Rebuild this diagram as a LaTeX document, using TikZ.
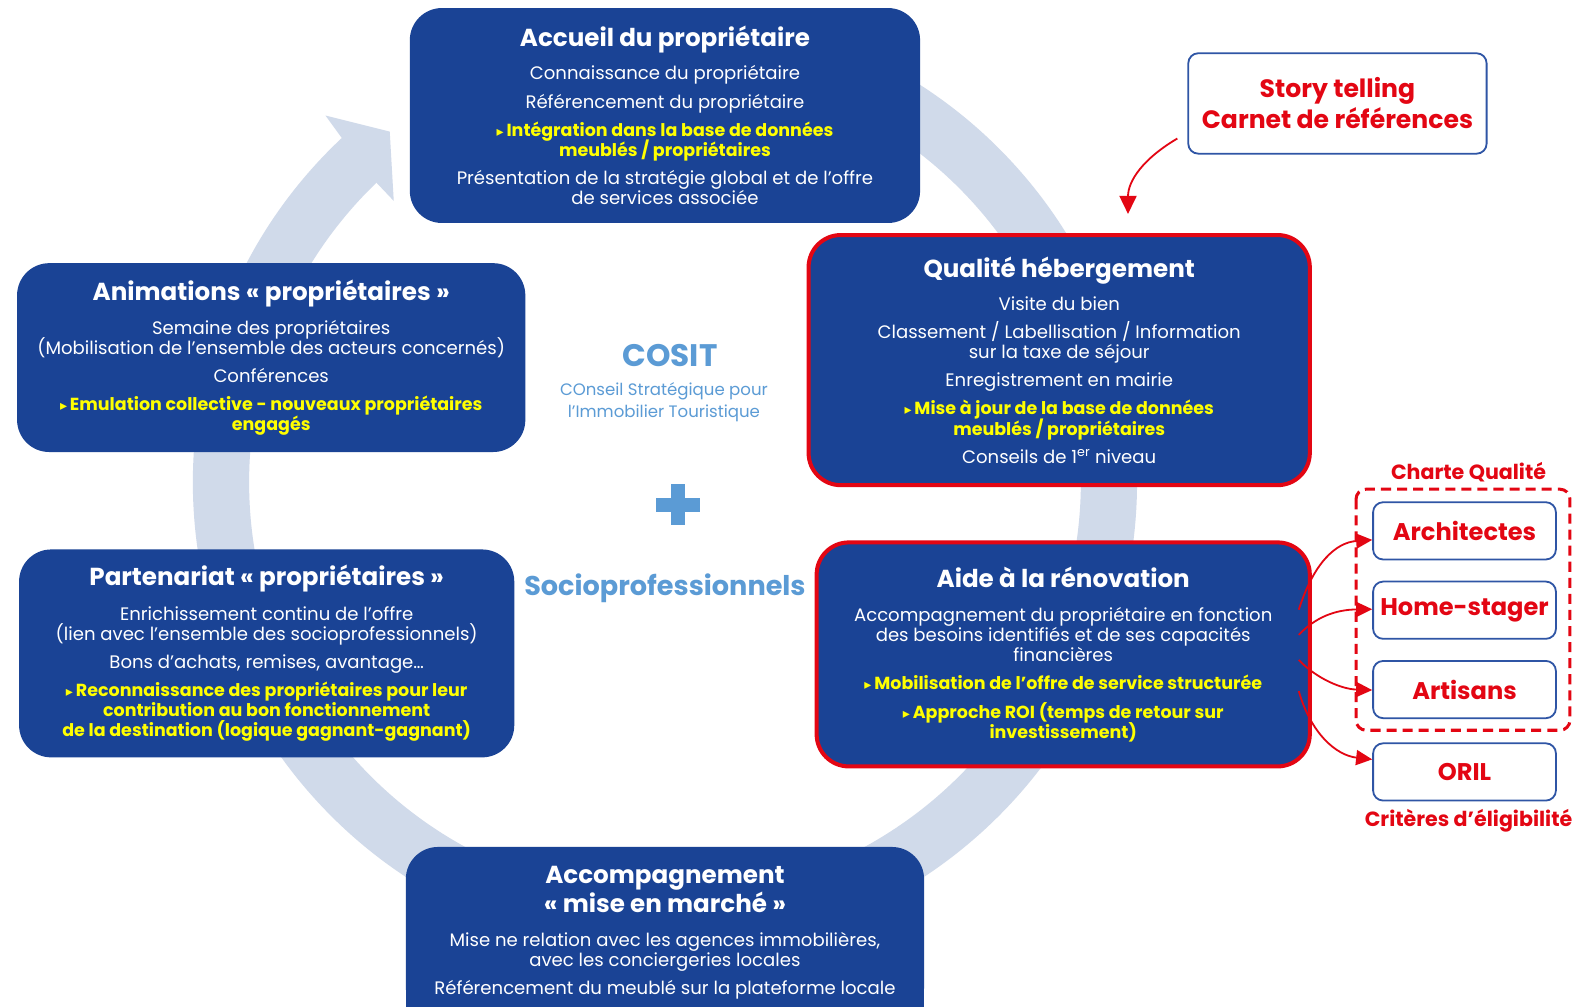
\documentclass[tikz,border=0pt]{standalone}
\usepackage{fontspec}
\setmainfont{Poppins}
\newfontfamily\dejavu{DejaVu Sans}
\usetikzlibrary{arrows.meta}
\definecolor{boxblue}{RGB}{26,67,149}
\definecolor{ringc}{RGB}{208,218,234}
\definecolor{boxred}{RGB}{227,6,19}
\definecolor{yel}{RGB}{255,255,0}
\definecolor{lblue}{RGB}{91,155,213}
\definecolor{sblue}{RGB}{47,85,165}
\newcommand{\fs}[2]{\fontsize{#1}{#2}\selectfont}
\newcommand{\bul}{{\dejavu\fs{14}{14}▸}\,}
\newcommand{\ttl}[1]{{\fs{24.5}{26}\bfseries #1}}
\newcommand{\yel}[1]{{\color{yel}\fs{17.4}{20}\bfseries #1}}
\lineskiplimit=-100pt
\begin{document}
\lineskiplimit=-100pt
\begin{tikzpicture}[x=1pt,y=1pt,
  box/.style={fill=boxblue, rounded corners=32pt, align=center, text=white, inner sep=0pt, font=\fs{18}{20}},
  redbox/.style={box, draw=boxred, line width=4pt},
  sbox/.style={draw=sblue, line width=1.8pt, fill=white, rounded corners=10pt, text=boxred, font=\fs{24}{31}\bfseries, align=center, inner sep=0pt},
  redarr/.style={draw=boxred, line width=1.8pt, -{Triangle[length=16pt,width=15pt]}},
  lbl/.style={text=boxred, font=\fs{20.5}{22}\bfseries, inner sep=0pt}]
\useasboundingbox (0,0) rectangle (1575,-1007);
\clip (0,0) rectangle (1575,-1007);
\fill[white] (0,0) rectangle (1575,-1007);
\begin{scope}[transform canvas={scale=1.00446}]
% ring
\begin{scope}[shift={(662,-480)}]
\fill[ringc] (133:470pt) arc[start angle=133, end angle=480, radius=470pt] -- (480:414pt) arc[start angle=480, end angle=133, radius=414pt] -- cycle;
\end{scope}
\fill[ringc] (340,-137) -- (324,-115) -- (388,-131) -- (392,-200) -- (373,-180) -- cycle;
% boxes
\node[box, minimum width=508pt, minimum height=214pt] (accueil) at (662,-115) {%
\ttl{Accueil du propriétaire}\\[13pt]
Connaissance du propriétaire\\[8pt]
Référencement du propriétaire\\[8pt]
\yel{\bul Intégration dans la base de données}\\
\yel{meublés / propriétaires}\\[8pt]
Présentation de la stratégie global et de l’offre\\
de services associée};
\node[redbox, minimum width=499pt, minimum height=249pt] (qual) at (1054.5,-358.5) {%
\ttl{Qualité hébergement}\\[13pt]
Visite du bien\\[8pt]
Classement / Labellisation / Information\\
sur la taxe de séjour\\[8pt]
Enregistrement en mairie\\[8pt]
\yel{\bul Mise à jour de la base de données}\\
\yel{meublés / propriétaires}\\[8pt]
Conseils de 1\textsuperscript{er} niveau};
\node[box, minimum width=506pt, minimum height=188pt] (anim) at (270,-356) {%
\ttl{Animations «~propriétaires~»}\\[14pt]
Semaine des propriétaires\\
(Mobilisation de l’ensemble des acteurs concernés)\\[8pt]
Conférences\\[8pt]
\yel{\bul Emulation collective - nouveaux propriétaires}\\
\yel{engagés}};
\node[box, minimum width=493pt, minimum height=207pt] (part) at (265.5,-650.5) {%
\ttl{Partenariat «~propriétaires~»}\\[14pt]
Enrichissement continu de l’offre\\
(lien avec l’ensemble des socioprofessionnels)\\[8pt]
Bons d’achats, remises, avantage…\\[8pt]
\yel{\bul Reconnaissance des propriétaires pour leur}\\
\yel{contribution au bon fonctionnement}\\
\yel{de la destination (logique gagnant-gagnant)}};
\node[redbox, minimum width=491pt, minimum height=223pt] (aide) at (1058.5,-651.5) {%
\ttl{Aide à la rénovation}\\[14pt]
Accompagnement du propriétaire en fonction\\
des besoins identifiés et de ses capacités\\
financières\\[8pt]
\yel{\bul Mobilisation de l’offre de service structurée}\\[8pt]
\yel{\bul Approche ROI (temps de retour sur}\\
\yel{investissement)}};
\fill[boxblue] (404,-930) rectangle (920,-1050);
\node[box, minimum width=516pt, anchor=north, inner ysep=19pt] (accomp) at (662,-843) {%
\ttl{Accompagnement}\\[9pt]
\ttl{«~mise en marché~»}\\[14pt]
Mise ne relation avec les agences immobilières,\\
avec les conciergeries locales\\[8pt]
Référencement du meublé sur la plateforme locale};
% centre texts
\node[text=lblue, font=\fs{31}{32}\bfseries, inner sep=0pt] (cosit) at (667,-354) {COSIT};
\node[text=lblue, font=\fs{16.5}{22}, align=center, inner sep=0pt] (cosittxt) at (661,-400) {COnseil Stratégique pour\\l’Immobilier Touristique};
\fill[lblue] (668,-482) rectangle (682,-523);
\fill[lblue] (653,-495.5) rectangle (697,-509.5);
\node[text=lblue, font=\fs{27}{30}\bfseries, inner sep=0pt] (socio) at (662,-586) {Socioprofessionnels};
% story
\node[sbox, font=\fs{25}{31}\bfseries, minimum width=297pt, minimum height=100pt] (story) at (1331.5,-103) {Story telling\\Carnet de références};
\draw[redarr, -{Triangle[length=18pt,width=17pt]}] ([shift={(-10pt,16pt)}]story.south west) .. controls (1138,-158) and (1123,-180) .. ([shift={(68.5pt,19pt)}]qual.north);
% right side
\draw[boxred, line width=3pt, dash pattern=on 10pt off 6pt, rounded corners=10pt] (1350,-487) rectangle (1563,-727);
\node[lbl] (charte) at (1462,-470) {Charte Qualité};
\node[sbox, minimum width=182pt, minimum height=57pt] (archi) at (1458,-528.5) {Architectes};
\node[sbox, minimum width=182pt, minimum height=57pt] (home) at (1458,-607.5) {Home-stager};
\node[sbox, minimum width=182pt, minimum height=57pt] (artis) at (1458,-686.5) {Artisans};
\node[sbox, minimum width=182pt, minimum height=57pt] (oril) at (1458,-768.5) {ORIL};
\node[lbl] (crit) at (1462,-817) {Critères d’éligibilité};
\draw[redarr] ([shift={(-13pt,44.5pt)}]aide.east) .. controls (1308,-560) and (1330,-540) .. ([yshift=-9pt]archi.west);
\draw[redarr] ([shift={(-13pt,19.5pt)}]aide.east) .. controls (1310,-614) and (1330,-607) .. ([yshift=1pt]home.west);
\draw[redarr] ([shift={(-13pt,-5.5pt)}]aide.east) .. controls (1310,-675) and (1335,-686) .. ([yshift=-0.5pt]artis.west);
\draw[redarr] ([shift={(-13pt,-36.5pt)}]aide.east) .. controls (1305,-730) and (1330,-752) .. ([yshift=12.5pt]oril.west);
\end{scope}
\end{tikzpicture}
\end{document}
